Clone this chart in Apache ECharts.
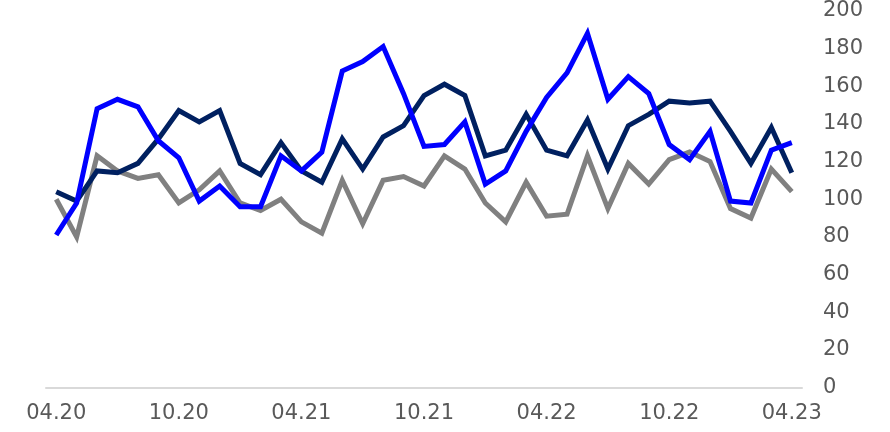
<!DOCTYPE html>
<html>
<head>
<meta charset="utf-8">
<script src="https://cdn.jsdelivr.net/npm/echarts@6/dist/echarts.min.js"></script>
<style>
html,body{margin:0;padding:0;background:#fff;}
#chart{width:890px;height:432px;}
</style>
</head>
<body>
<div id="chart"></div>
<script>
const categories = [
  "04.20","05.20","06.20","07.20","08.20","09.20","10.20","11.20","12.20",
  "01.21","02.21","03.21","04.21","05.21","06.21","07.21","08.21","09.21",
  "10.21","11.21","12.21","01.22","02.22","03.22","04.22","05.22","06.22",
  "07.22","08.22","09.22","10.22","11.22","12.22","01.23","02.23","03.23","04.23"
];
const blueSeries = [
  81, 98, 148, 153, 149, 131, 122, 99, 107, 96, 96, 123, 115,
  125, 168, 173, 181, 156, 128, 129, 141, 108, 115, 136, 154,
  167, 188, 153, 165, 156, 129, 121, 136, 99, 98, 126, 130
];
const navySeries = [
  104, 99, 115, 114, 119, 132, 147, 141, 147, 119, 113, 130, 115,
  109, 132, 116, 133, 139, 155, 161, 155, 123, 126, 145, 126,
  123, 142, 116, 139, 145, 152, 151, 152, 136, 119, 138, 114
];
const graySeries = [
  100, 80, 123, 115, 111, 113, 98, 105, 115, 98, 94, 100, 88,
  82, 110, 87, 110, 112, 107, 123, 116, 98, 88, 109, 91,
  92, 123, 95, 119, 108, 121, 125, 120, 95, 90, 116, 104
];
const yTicks = { min: 0, max: 200, interval: 20 };

const chart = echarts.init(document.getElementById('chart'), null, { renderer: 'canvas' });
const fontFamily = 'DejaVu Sans, Verdana, sans-serif';
function lineSeries(name, data, color, z) {
  return {
    name: name,
    type: 'line',
    data: data,
    symbol: 'none',
    z: z,
    lineStyle: { color: color, width: 5, join: 'miter', cap: 'butt' },
    itemStyle: { color: color },
    emphasis: { disabled: true },
    animation: false
  };
}
chart.setOption({
  animation: false,
  grid: { left: 46, right: 88, top: 10.7, bottom: 44.3 },
  xAxis: {
    type: 'category',
    data: categories,
    boundaryGap: true,
    axisLine: { show: true, lineStyle: { color: '#d9d9d9', width: 2 } },
    axisTick: { show: false },
    axisLabel: {
      interval: 5,
      margin: 15,
      color: '#595959',
      fontSize: 21,
      fontFamily: fontFamily
    },
    splitLine: { show: false }
  },
  yAxis: {
    type: 'value',
    position: 'right',
    min: yTicks.min,
    max: yTicks.max,
    interval: yTicks.interval,
    axisLine: { show: false },
    axisTick: { show: false },
    splitLine: { show: false },
    axisLabel: {
      margin: 21,
      color: '#595959',
      fontSize: 21,
      fontFamily: fontFamily
    }
  },
  series: [
    lineSeries('Gray', graySeries, '#808080', 1),
    lineSeries('Navy', navySeries, '#002060', 2),
    lineSeries('Blue', blueSeries, '#0000ff', 3)
  ]
});
</script>
</body>
</html>
